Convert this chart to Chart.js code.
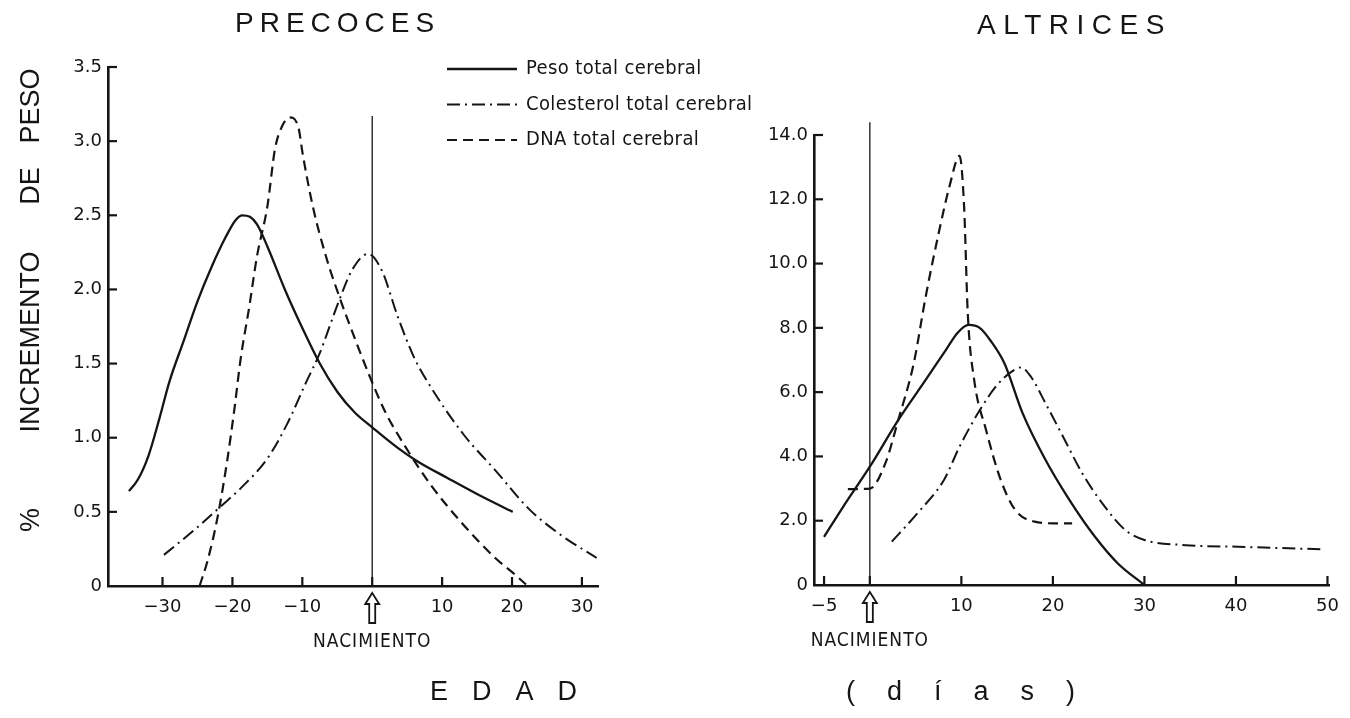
<!DOCTYPE html>
<html><head><meta charset="utf-8">
<script src="https://cdn.jsdelivr.net/npm/chart.js@4.4.0/dist/chart.umd.min.js"></script>
<style>
html,body{margin:0;padding:0;background:#fff;width:1350px;height:718px;overflow:hidden;}
#wrap{position:relative;width:1350px;height:718px;background:#fff;}
canvas{position:absolute;top:0;}
.t{position:absolute;font-family:"Liberation Sans",Arial,sans-serif;color:#151515;white-space:nowrap;line-height:1;}
.v{transform:translate(-50%,-50%) rotate(-90deg);font-size:27px;}
</style></head><body>
<div id="wrap">
<canvas id="c1" width="780" height="718" style="left:0;width:780px;height:718px"></canvas>
<canvas id="c2" width="610" height="718" style="left:740px;width:610px;height:718px"></canvas>
<div class="t" style="left:235px;top:9px;font-size:28px;letter-spacing:6px">PRECOCES</div>
<div class="t" style="left:977px;top:11px;font-size:28px;letter-spacing:7.5px">ALTRICES</div>
<div class="t v" style="left:30px;top:106px">PESO</div>
<div class="t v" style="left:30px;top:186px">DE</div>
<div class="t v" style="left:30px;top:342px">INCREMENTO</div>
<div class="t v" style="left:30px;top:520px">%</div>
<div class="t" style="left:430px;top:678px;font-size:27px;letter-spacing:24px">EDAD</div>
<div class="t" style="left:846px;top:678px;font-size:27px;letter-spacing:32px">(días)</div>
</div>
<script>
// ---------- data ----------
const seriesLabels = ['Peso total cerebral', 'Colesterol total cerebral', 'DNA total cerebral'];

// PRECOCES
const precocesPesoX = [-34.8,-33.5,-32,-30.5,-29,-27,-25,-23,-21,-19.5,-18.6,-17.5,-16.5,-15,-12.5,-10,-7.5,-5,-2.5,0,3.7,6.5,10.7,15.4,20.1];
const precocesPesoY = [0.64,0.72,0.88,1.12,1.38,1.65,1.92,2.15,2.35,2.47,2.50,2.49,2.44,2.29,2.00,1.74,1.50,1.31,1.17,1.07,0.93,0.84,0.73,0.61,0.50];
const precocesColX = [-29.8,-25.4,-21.6,-18.8,-15.0,-12.2,-9.4,-7.6,-4.7,-2.9,-0.6,1.35,3.7,6.0,8.4,13.1,17.8,22.4,27.1,32.1];
const precocesColY = [0.21,0.38,0.54,0.66,0.86,1.09,1.38,1.56,1.93,2.13,2.24,2.13,1.81,1.54,1.34,1.02,0.77,0.52,0.34,0.19];
const precocesDnaX = [-24.7,-23.5,-22.1,-20.7,-19.7,-18.8,-17.6,-16.5,-15.0,-13.9,-12.9,-11.8,-10.6,-9.9,-8.5,-6.6,-4.7,-2.9,-0.5,1.8,4.6,8.4,13.1,17.8,20.1,22.0];
const precocesDnaY = [0,0.18,0.47,0.86,1.20,1.54,1.88,2.22,2.56,2.95,3.10,3.16,3.10,2.90,2.56,2.22,1.95,1.72,1.43,1.18,0.95,0.68,0.41,0.18,0.09,0.01];
const precocesBirthLineTop = 3.17;

// ALTRICES
const altricesPesoX = [-5.0,-2.9,0,3.1,6.1,8.3,9.6,10.8,12.0,13.2,14.7,16.7,19.2,21.8,24.6,27.1,30.0];
const altricesPesoY = [1.50,2.44,3.68,5.13,6.38,7.31,7.85,8.09,8.00,7.60,6.90,5.34,3.89,2.65,1.50,0.67,0];
const altricesColX = [2.4,5.2,8.1,9.8,11.8,13.9,15.5,16.5,17.6,19.2,21.1,23.2,25.4,27.9,30.0,34.5,40.2,49.4];
const altricesColY = [1.35,2.23,3.27,4.30,5.34,6.22,6.64,6.77,6.48,5.65,4.62,3.48,2.54,1.71,1.40,1.24,1.19,1.11];
const altricesDnaX = [-2.4,0,1.7,3.1,4.8,6.1,7.6,8.7,9.8,10.3,10.7,11.4,12.7,14.3,15.9,18.0,20.0,22.1];
const altricesDnaY = [2.98,3.0,3.79,5.13,6.90,8.97,11.05,12.40,13.35,11.77,8.45,6.38,4.82,3.27,2.33,1.97,1.92,1.92];
const altricesBirthLineTop = 14.4;

// ticks
const precocesTicksX = [-30,-20,-10,0,10,20,30];
const precocesTickLabelsX = ['\u221230','\u221220','\u221210','','10','20','30'];
const precocesTicksY = [0,0.5,1,1.5,2,2.5,3,3.5];
const precocesTickLabelsY = ['0','0.5','1.0','1.5','2.0','2.5','3.0','3.5'];
const altricesTicksX = [-5,0,10,20,30,40,50];
const altricesTickLabelsX = ['\u22125','','10','20','30','40','50'];
const altricesTicksY = [0,2,4,6,8,10,12,14];
const altricesTickLabelsY = ['0','2.0','4.0','6.0','8.0','10.0','12.0','14.0'];
const birthLabel = 'NACIMIENTO';

// ---------- helpers ----------
const INK = '#151515';
const tickFont = {family: '"DejaVu Sans", sans-serif', size: 18};
const zip = (xs, ys) => xs.map((x, i) => ({x, y: ys[i]}));
const styles = [
  {borderDash: [], borderWidth: 2.3},
  {borderDash: [13, 5, 2, 5], borderWidth: 2},
  {borderDash: [10, 6], borderWidth: 2.2}
];

function series(xs, ys, i) {
  return {
    label: seriesLabels[i], data: zip(xs, ys), borderColor: INK, backgroundColor: INK,
    borderWidth: styles[i].borderWidth, borderDash: styles[i].borderDash,
    pointRadius: 0, fill: false, cubicInterpolationMode: 'monotone', borderCapStyle: 'butt'
  };
}
function birthLine(top) {
  return {label: birthLabel, data: [{x: 0, y: 0}, {x: 0, y: top}], borderColor: INK,
    borderWidth: 1.3, pointRadius: 0, fill: false, clip: false, isBirth: true};
}

const decor = {
  id: 'decor',
  afterDraw(chart, args, opts) {
    const ctx = chart.ctx, xs = chart.scales.x, ys = chart.scales.y, a = chart.chartArea;
    ctx.save();
    ctx.strokeStyle = INK; ctx.lineWidth = 2.2; ctx.setLineDash([]);
    const L = 9;
    xs.ticks.forEach(t => {
      const px = xs.getPixelForValue(t.value);
      ctx.beginPath(); ctx.moveTo(px, a.bottom); ctx.lineTo(px, a.bottom - L); ctx.stroke();
    });
    ys.ticks.forEach(t => {
      if (t.value === 0) return;
      const py = ys.getPixelForValue(t.value);
      ctx.beginPath(); ctx.moveTo(a.left, py); ctx.lineTo(a.left + L, py); ctx.stroke();
    });
    // birth arrow
    const x0 = xs.getPixelForValue(0), y0 = a.bottom + 7;
    ctx.beginPath();
    ctx.moveTo(x0, y0); ctx.lineTo(x0 + 7, y0 + 11); ctx.lineTo(x0 + 3, y0 + 11);
    ctx.lineTo(x0 + 3, y0 + 30); ctx.lineTo(x0 - 3, y0 + 30); ctx.lineTo(x0 - 3, y0 + 11);
    ctx.lineTo(x0 - 7, y0 + 11); ctx.closePath();
    ctx.fillStyle = '#fff'; ctx.fill(); ctx.lineWidth = 1.8; ctx.stroke();
    ctx.fillStyle = INK;
    ctx.font = '19px "DejaVu Sans Condensed", "DejaVu Sans", sans-serif';
    if ('letterSpacing' in ctx) ctx.letterSpacing = '1px';
    ctx.textAlign = 'center'; ctx.textBaseline = 'middle';
    ctx.fillText(birthLabel, x0, a.bottom + 56);
    if ('letterSpacing' in ctx) ctx.letterSpacing = '0px';
    // legend
    if (opts.legend) {
      const lg = opts.legend;
      chart.data.datasets.filter(d => !d.isBirth).forEach((d, i) => {
        const y = lg.y + i * lg.dy;
        ctx.setLineDash(d.borderDash || []);
        ctx.lineWidth = d.borderWidth;
        ctx.beginPath(); ctx.moveTo(lg.x, y); ctx.lineTo(lg.x + lg.w, y); ctx.stroke();
        ctx.setLineDash([]);
        ctx.font = '20px "DejaVu Sans Condensed", "DejaVu Sans", sans-serif';
        if ('letterSpacing' in ctx) ctx.letterSpacing = '0.4px';
        ctx.textAlign = 'left';
        ctx.fillText(d.label, lg.x + lg.w + 9, y);
      });
    }
    ctx.restore();
  }
};

function makeChart(id, datasets, xmin, xmax, ymin, ymax, tx, txl, ty, tyl, yAxisW, xAxisH, pad, decorOpts) {
  return new Chart(document.getElementById(id), {
    type: 'line',
    data: {datasets},
    plugins: [decor],
    options: {
      responsive: false, animation: false, devicePixelRatio: 1,
      layout: {padding: pad},
      plugins: {legend: {display: false}, tooltip: {enabled: false}, decor: decorOpts},
      scales: {
        x: {
          type: 'linear', min: xmin, max: xmax,
          afterBuildTicks: s => { s.ticks = tx.map(v => ({value: v})); },
          afterFit: s => { s.height = xAxisH; },
          ticks: {callback: (v, i) => txl[i], font: tickFont, color: INK, padding: 11, autoSkip: false, maxRotation: 0},
          grid: {drawOnChartArea: false, drawTicks: false},
          border: {display: true, width: 2.6, color: INK}
        },
        y: {
          type: 'linear', min: ymin, max: ymax,
          afterBuildTicks: s => { s.ticks = ty.map(v => ({value: v})); },
          afterFit: s => { s.width = yAxisW; },
          ticks: {callback: (v, i) => tyl[i], font: tickFont, color: INK, padding: 6, autoSkip: false},
          grid: {drawOnChartArea: false, drawTicks: false},
          border: {display: true, width: 2.6, color: INK}
        }
      }
    }
  });
}

makeChart('c1', [
    series(precocesPesoX, precocesPesoY, 0),
    series(precocesColX, precocesColY, 1),
    series(precocesDnaX, precocesDnaY, 2),
    birthLine(precocesBirthLineTop)
  ], -37.8, 32.3, 0, 3.5, precocesTicksX, precocesTickLabelsX, precocesTicksY, precocesTickLabelsY,
  108, 132, {left: 0, top: 67, right: 182, bottom: 0},
  {legend: {x: 447, y: 69, dy: 35.5, w: 70}});

makeChart('c2', [
    series(altricesPesoX, altricesPesoY, 0),
    series(altricesColX, altricesColY, 1),
    series(altricesDnaX, altricesDnaY, 2),
    birthLine(altricesBirthLineTop)
  ], -6.1, 50.2, 0, 14, altricesTicksX, altricesTickLabelsX, altricesTicksY, altricesTickLabelsY,
  74, 133, {left: 0, top: 135, right: 20, bottom: 0},
  {});
</script>
</body></html>
